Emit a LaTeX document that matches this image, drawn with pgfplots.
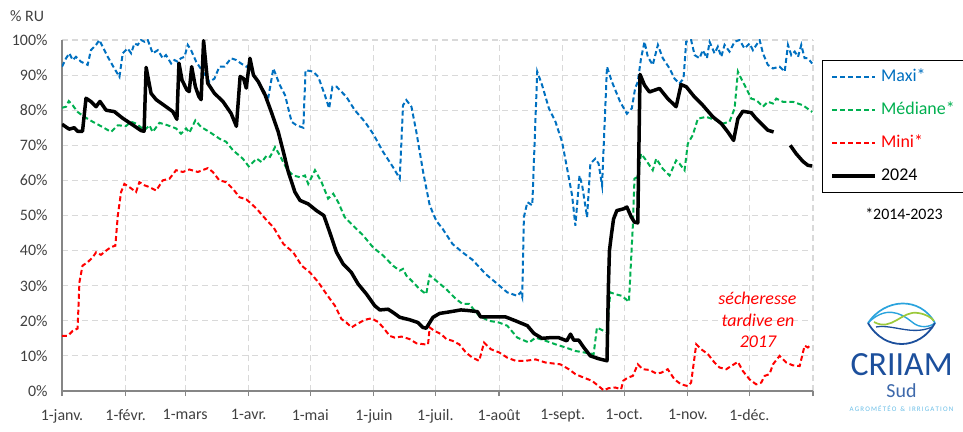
\documentclass[border=0pt]{standalone}
\usepackage{pgfplots}
\pgfplotsset{compat=1.18}
\usepackage{fontspec}
\setmainfont{Carlito}
\definecolor{maxi}{HTML}{0070C0}
\definecolor{med}{HTML}{00B050}
\definecolor{mini}{HTML}{FF0000}
\definecolor{gridc}{HTML}{D9D9D9}
\definecolor{axc}{HTML}{868686}
\definecolor{tickc}{HTML}{404040}
\definecolor{logodark}{HTML}{1C4F9C}
\definecolor{logolight}{HTML}{2AA3DD}
\definecolor{logogreen}{HTML}{9CC93B}
\begin{document}
\begin{tikzpicture}
\useasboundingbox (-62bp,-41bp) rectangle (901bp,391bp);
\begin{axis}[
  at={(0,0)}, anchor=south west,
  scale only axis, width=751bp, height=351bp,
  xmin=0, xmax=366, ymin=0, ymax=100,
  axis lines*=left,
  axis line style={draw=axc, line width=1.2bp},
  grid=major,
  grid style={draw=gridc, line width=1.1bp, dash pattern=on 6bp off 4bp},
  xtick={0,31,60,91,121,152,182,213,244,274,305,335,366},
  xticklabels={1-janv.,1-févr.,1-mars,1-avr.,1-mai,1-juin,1-juil.,1-août,1-sept.,1-oct.,1-nov.,1-déc.,},
  ytick={0,10,...,100},
  yticklabel={\pgfmathprintnumber{\tick}\%},
  /pgf/number format/assume math mode=true,
  tick label style={font=\fontsize{16}{19}\selectfont, text=tickc},
  xticklabel style={yshift=-10bp},
  yticklabel style={xshift=-6bp},
  tick align=outside,
  major tick length=5bp,
  x tick style={draw=axc, line width=1.2bp},
  y tick style={draw=none},
  unbounded coords=jump,
  legend cell align=left,
  legend image code/.code={\draw[#1] (0bp,0bp) -- (43bp,0bp);},
  legend style={at={(1.012,0.943)}, anchor=north west, draw=black, line width=1.2bp,
    font=\fontsize{18}{22}\selectfont, row sep=16bp, inner xsep=8bp, inner ysep=8bp,
    column sep=4bp,
    nodes={inner sep=0pt, text height=13bp, text depth=4bp, text width=80bp}},
]
% Maxi
\addplot[maxi, line width=2bp, dash pattern=on 5bp off 3bp] coordinates {
(0,92.4)(2,94.8)(3.6,96.2)(5.2,94.3)(6.8,95.2)(9.3,93.8)(12.5,92.9)(14.1,97.1)(16.6,98.6)(18.2,100)(19.8,98.1)(22.3,95.2)(25.5,91.9)(28,89.5)(29.6,96.2)(32,97.6)(33.7,96.2)(35.3,99)(36.9,98.6)(38.5,100)(40.2,99.5)(41.8,100)(44.2,96.2)(46.7,97.1)(49.1,94.8)(50.7,95.7)(53.2,93.3)(54.8,94.3)(56.4,93.8)(58,94.8)(59.7,95.2)(61.3,98.6)(62.9,97.1)(65.4,93.8)(68.6,91)(71.9,88.1)(74.3,89)(76.7,92.4)(79.2,92.4)(82.4,94.8)(84.9,94.3)(87.3,93.3)(89.8,92.4)(91.4,92.9)(93.3,90)(97.3,86.2)(100.6,83.8)(103,91.9)(106.2,87.1)(108.7,84.3)(111.9,76.7)(114.3,75.7)(117.6,75)(118.7,91.4)(122.4,91)(124.9,89.5)(128.1,84.3)(130.2,80.5)(131.8,86.7)(133.8,86.7)(138.6,83.8)(142.7,80)(147.6,76.7)(151.6,73.3)(156.5,68.1)(161.3,63.8)(164.6,60.5)(166.2,81.4)(167.8,82.9)(170.3,81)(172.7,73.8)(176,62.4)(179.2,52.9)(182.4,48.5)(185.5,46.2)(190.3,41.9)(195.2,39.5)(200,37.4)(206.5,33.3)(212.2,30.5)(217,28.1)(221.9,27.1)(223.5,28.1)(224.3,26.7)(225.1,49.5)(226.8,53.8)(229.2,52.9)(231.6,91)(234,87.1)(237.3,80.5)(240.5,76.7)(243.7,71)(246.2,63.3)(248.6,55.7)(250.2,47.1)(252.2,61.4)(253.5,58.6)(255.9,49.5)(257.5,64.8)(259.9,66.2)(261.5,64.8)(263.2,58.6)(265.6,92.4)(268,88.1)(272,82.4)(275.3,79)(277.7,80.5)(279.3,86.2)(280.6,88.1)(282.2,94.8)(283.9,99.5)(285.5,95.2)(287.9,92.9)(290.4,98.6)(292.8,94.8)(296.1,91.9)(298.5,89)(300.9,87.6)(302.9,89)(304.2,99.5)(306.6,100)(308.3,95.7)(310.7,94.8)(312.3,97.1)(314.3,94.8)(315.6,99.5)(318,96.2)(319.6,98.1)(321.3,95.2)(322.9,98.6)(325.3,96.7)(327.8,99.5)(330.2,100)(332.6,97.6)(335.1,99)(336.7,97.1)(340,100)(341.6,96.2)(344,92.9)(346.5,91.9)(349.7,92.4)(352.2,91)(353.8,98.6)(355.4,95.7)(357.1,96.7)(358.7,95.2)(360.3,98.6)(361.9,94.8)(363.5,94.8)(365.6,93.3)
};
\addlegendentry[text=maxi]{Maxi*}
% Mediane
\addplot[med, line width=2bp, dash pattern=on 5bp off 3bp] coordinates {
(0,80.7)(2,81)(3.3,82.6)(5.2,81.4)(7.6,79.5)(10.9,78.1)(15,76.7)(19.8,75.2)(23.9,73.8)(27.2,75.7)(31.2,75.5)(33.7,76.7)(36.1,76.2)(40.2,74.3)(42.6,75.7)(44.2,73.8)(47.5,76.4)(51.5,75.7)(55.6,74.8)(58,73.3)(60.5,74.8)(62.1,73.6)(65,77.1)(67.8,75.2)(71.9,73.8)(76.7,71.9)(80,71)(83.3,68.6)(88.1,66.2)(91,64)(94.9,66.2)(97.3,65.2)(99.8,67.1)(101.4,66.7)(103.8,69.5)(106.2,67.1)(109.5,63.3)(112.7,61.4)(116,60.9)(118.4,61.4)(120,59)(123.3,62.9)(126.5,59.5)(129.7,54.8)(132.2,56.2)(134.6,53.8)(137.8,49.5)(141.9,47.1)(146.8,44.3)(151.6,40.9)(156.5,38.6)(161.3,35.7)(164.6,34.3)(166.2,34.8)(167.8,32.9)(171.1,31)(174.3,29)(177.5,27.6)(179.2,33)(182.4,31.4)(187.3,29)(192,26.2)(195.2,24.8)(198.4,24.8)(203.3,21.4)(208.1,20)(213,19.5)(217,18.6)(221.9,15.2)(227.6,13.8)(230.8,15.2)(235.7,14.3)(240.5,13.3)(245.4,12.4)(250.2,11.4)(254.3,11)(259.1,10.5)(260.7,18.1)(264,17.1)(265.6,16.7)(267.2,28.1)(269.6,27.6)(272.9,27.1)(276.3,25.4)(278.2,47.1)(279,60.5)(280.6,61)(282.2,67.6)(284.7,65.7)(287.9,62.9)(289.6,66.2)(292.8,63.3)(296.1,61.4)(299.3,65.7)(300.9,64.8)(303.4,62.9)(305,70.5)(307.4,72.9)(309.9,77.6)(314,78.1)(318.8,77.1)(322.1,76.2)(325.3,76.7)(327.8,80.5)(329.4,91)(331,89)(333.5,86.2)(335.9,83.3)(338.3,82.9)(341.6,81)(344,82.4)(346.5,81.9)(348.1,83.3)(351.3,82.4)(356.2,82.4)(361.1,81.4)(365.6,79.5)
};
\addlegendentry[text=med]{Médiane*}
% Mini
\addplot[mini, line width=2bp, dash pattern=on 5bp off 3bp] coordinates {
(0,15.7)(2.8,15.7)(5.2,17.1)(7.6,17.8)(8.5,31)(10,35.7)(12.5,36.7)(15,38.1)(16.6,39.5)(19,38.8)(21.5,40)(23.9,41)(26,41.4)(27.2,50)(28.8,56.7)(30.4,59)(32.8,58.1)(36.1,56.7)(37.7,59.5)(40.2,58.6)(42.6,58.1)(45.9,57.1)(49.1,60)(52.4,60.5)(55.6,62.9)(58.9,62.4)(62.1,63.1)(66.2,62.4)(71.1,63.5)(73.5,62.4)(76.7,60)(80,59.5)(83.3,57.6)(86.5,55.2)(89.8,54.6)(91.4,53.8)(94.9,51.9)(99.8,48.6)(103,46.7)(107.9,41.9)(112.7,39.5)(116.8,35.7)(120.8,33.8)(124.9,31)(128.9,27.6)(133,24.3)(136.2,20.5)(138.6,19.5)(141.1,18.1)(143.5,19)(147.6,20.3)(150.8,20.7)(154,19.7)(156.5,18.1)(159.7,15.7)(162.2,15.2)(165.4,15.5)(169.4,14.8)(172.7,13.6)(176.7,13.3)(178.4,13.3)(179.2,18.1)(181.6,17.1)(184.8,16.2)(187.3,14.8)(190.3,14.3)(193.6,13.3)(196.8,11)(200,9.5)(203.3,8.6)(205.7,13.8)(209,11.9)(213,11)(217,9.5)(221.1,8.6)(225.9,8.6)(230.8,9)(235.7,8.1)(242.9,7.6)(247,6.2)(250.2,4.8)(254.3,3.8)(258.3,2.9)(261.5,1.4)(264,0.2)(266.4,0.8)(269.6,1)(272.5,0.5)(273.5,2.9)(275.7,3.8)(278.2,4.3)(280.6,7.6)(283.1,6.2)(286.3,6)(289.6,5)(292,5.2)(295.2,6.2)(298.5,3.3)(301.7,1.9)(305,1.4)(306.6,2.4)(309.1,13.3)(311.5,11.9)(314.8,10.5)(318,8.1)(320.4,6.7)(323.7,6.2)(326.1,7.1)(329.4,8.3)(331.8,5.7)(335.1,3.3)(338.3,1.9)(340.8,2.4)(342.4,4.3)(344.8,4.8)(346.5,7.6)(349.7,10)(353,8.1)(356.2,7.3)(359.5,7.1)(361.9,12.9)(363.5,12.4)(365.2,13.3)
};
\addlegendentry[text=mini]{Mini*}
% 2024
\addplot[black, line width=3.5bp, line join=round] coordinates {
(0,76)(2,75.2)(3.5,74.6)(6,75)(7.6,74)(10,74)(11.7,83.4)(14,82.5)(16.6,81)(18.5,82.5)(21.5,80)(25.5,79.6)(29.6,77.7)(34.5,75.8)(38.5,74.2)(40,74)(41,92.2)(43.4,84.8)(45.9,83)(50.7,81)(54,79.6)(56,77.4)(57,93.4)(58.5,88.6)(60.8,85.8)(62,85.3)(63.2,92.4)(65,86.7)(66.7,83.9)(67.8,83)(69,99.8)(71,87.7)(74.3,84.8)(78.4,82.5)(82.4,79.1)(85,75.4)(86.8,89.6)(88.5,89)(89.8,86.3)(91.6,94.8)(93.3,90)(95.7,88.1)(99,84.3)(102,79.5)(105.4,73.8)(107.9,68.1)(110.3,62.4)(113.5,56.7)(116,54.3)(120,53.3)(124,51.4)(127.6,50)(130.5,45.2)(133.8,39.5)(137,36.2)(141,33.8)(144.3,30.5)(148.4,27.6)(152.4,24.3)(154.9,23.1)(158.9,23.3)(161.3,22.4)(164.6,21)(169.4,20.3)(173.5,19.5)(175.9,18.1)(177.5,17.9)(180.8,21)(184,22.1)(187.3,22.4)(189.5,22.6)(194.4,23.1)(198.4,22.9)(202.5,22.6)(204,21.1)(208,21.1)(216.2,21.1)(221,20)(226.8,18.6)(230,16.4)(234,15)(238,15.2)(242,15.2)(246,14.3)(247.8,16.2)(249.4,14.5)(251.8,14.5)(254.3,12.4)(257.5,10)(261.5,9.2)(265.6,8.6)(266.3,30)(266.8,40)(267.7,44.3)(268.8,49)(270.4,51.4)(273.7,51.9)(275.3,52.4)(277.5,49.5)(279,48.1)(280.6,47.9)(281.7,90.2)(283.9,87.1)(286.3,85.2)(291.2,86.2)(295.2,83.3)(299.3,81)(301.7,87.3)(304.2,86.7)(308.2,83.8)(312.3,81.4)(317.2,78.1)(321.3,76.2)(324.5,73.8)(327.3,71.4)(329.4,77.6)(331.8,79.7)(335.9,79.3)(338.3,77.6)(341.6,75.7)(344,74.3)(346.8,73.8)(350,nan)(354.9,70)(357.8,67.6)(361.1,65.4)(363.5,64.3)(365.6,64.1)
};
\addlegendentry[text=black]{2024}
\end{axis}
\begin{scope}[shift={(-62bp,391bp)}, x=1bp, y=-1bp]
\node[anchor=base west, inner sep=0pt, font=\fontsize{16}{19}\selectfont, text=tickc] at (10,21.7) {\% RU};
\node[anchor=base, inner sep=0pt, font=\fontsize{16}{19}\selectfont, text=black] at (904,219.5) {*2014-2023};
\node[anchor=base, inner sep=0pt, font=\itshape\fontsize{18}{22}\selectfont, text=mini] at (757.5,305) {sécheresse};
\node[anchor=base, inner sep=0pt, font=\itshape\fontsize{18}{22}\selectfont, text=mini] at (758,326.5) {tardive en};
\node[anchor=base, inner sep=0pt, font=\itshape\fontsize{18}{22}\selectfont, text=mini] at (758,348) {2017};
% logo
\draw[logolight, line width=1.7bp] (868,323) .. controls (885,298) and (920,296) .. (935,323);
\draw[logolight, line width=1.4bp] (868,323) .. controls (885,306) and (900,312) .. (912,322) .. controls (920,329) and (930,327) .. (935,323);
\draw[logogreen, line width=1.7bp] (874,322) .. controls (892,332) and (902,310) .. (918,313) .. controls (926,314) and (932,318) .. (934,321);
\draw[logodark, line width=1.8bp] (868,323) .. controls (885,352) and (920,350) .. (935,323);
\draw[logodark, line width=1.3bp] (876,327) .. controls (893,324) and (912,336) .. (932,327);
\node[anchor=base, inner sep=0pt, text depth=0pt, font=\fontsize{34}{40}\selectfont, text=logodark] at (901.7,376) {CRIIAM};
\node[anchor=base, inner sep=0pt, text height=14bp, font=\fontsize{20}{24}\selectfont, text=logodark!85!white] at (901.5,398) {Sud};
\node[anchor=base, inner sep=0pt, font=\fontsize{7}{8}\selectfont, text=logolight!70!white] at (901.5,412) {A\,G\,R\,O\,M\,É\,T\,É\,O\, \,\&\, \,I\,R\,R\,I\,G\,A\,T\,I\,O\,N};
\end{scope}
\end{tikzpicture}
\end{document}
